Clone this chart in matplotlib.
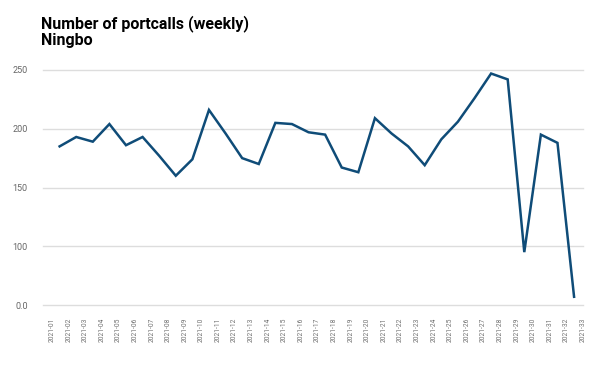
import matplotlib
matplotlib.use("Agg")
import matplotlib.pyplot as plt
import numpy as np

plt.rcParams['font.family'] = ['Roboto', 'DejaVu Sans']

# weekly portcall counts, Ningbo
weeks = ["2021-%02d" % w for w in range(1, 34)]
portcalls = [185, 193, 189, 204, 186, 193, 177, 160, 174, 216,
             196, 175, 170, 205, 204, 197, 195, 167, 163, 209,
             196, 185, 169, 191, 206, 226, 247, 242, 95, 195,
             188, 57]
ytick_vals = [50, 100, 150, 200, 250]
ytick_labels = ["0.0", "100", "150", "200", "250"]

fig = plt.figure(figsize=(6, 3.69), dpi=100)
ax = fig.add_axes([0.0717, 0.1734, 0.9003, 0.6369])

x = np.arange(len(portcalls)) + 0.45
ax.plot(x, portcalls, color="#0f4c78", lw=1.8, solid_joinstyle="miter", clip_on=False, zorder=3)

ax.set_xlim(-0.55, 32.0)
ax.set_ylim(50, 250)
ax.set_xticks(np.arange(len(weeks)))
ax.set_xticklabels(weeks, rotation=90, fontsize=4.8, color="#707070")
ax.set_yticks(ytick_vals)
ax.set_yticklabels(ytick_labels, fontsize=6.5, color="#666666")
ax.tick_params(axis="x", length=0, pad=9)
ax.tick_params(axis="y", length=0, pad=11)

ax.grid(axis="y", color="#dddddd", lw=1)
for gl in ax.get_ygridlines():
    gl.set_clip_on(False)
ax.set_axisbelow(True)
for s in ax.spines.values():
    s.set_visible(False)

fig.text(0.068, 0.924, "Number of portcalls (weekly)", fontsize=11.5, fontweight="bold", va="baseline")
fig.text(0.068, 0.878, "Ningbo", fontsize=11.5, fontweight="bold", va="baseline")

fig.savefig("out.png", dpi=100)
